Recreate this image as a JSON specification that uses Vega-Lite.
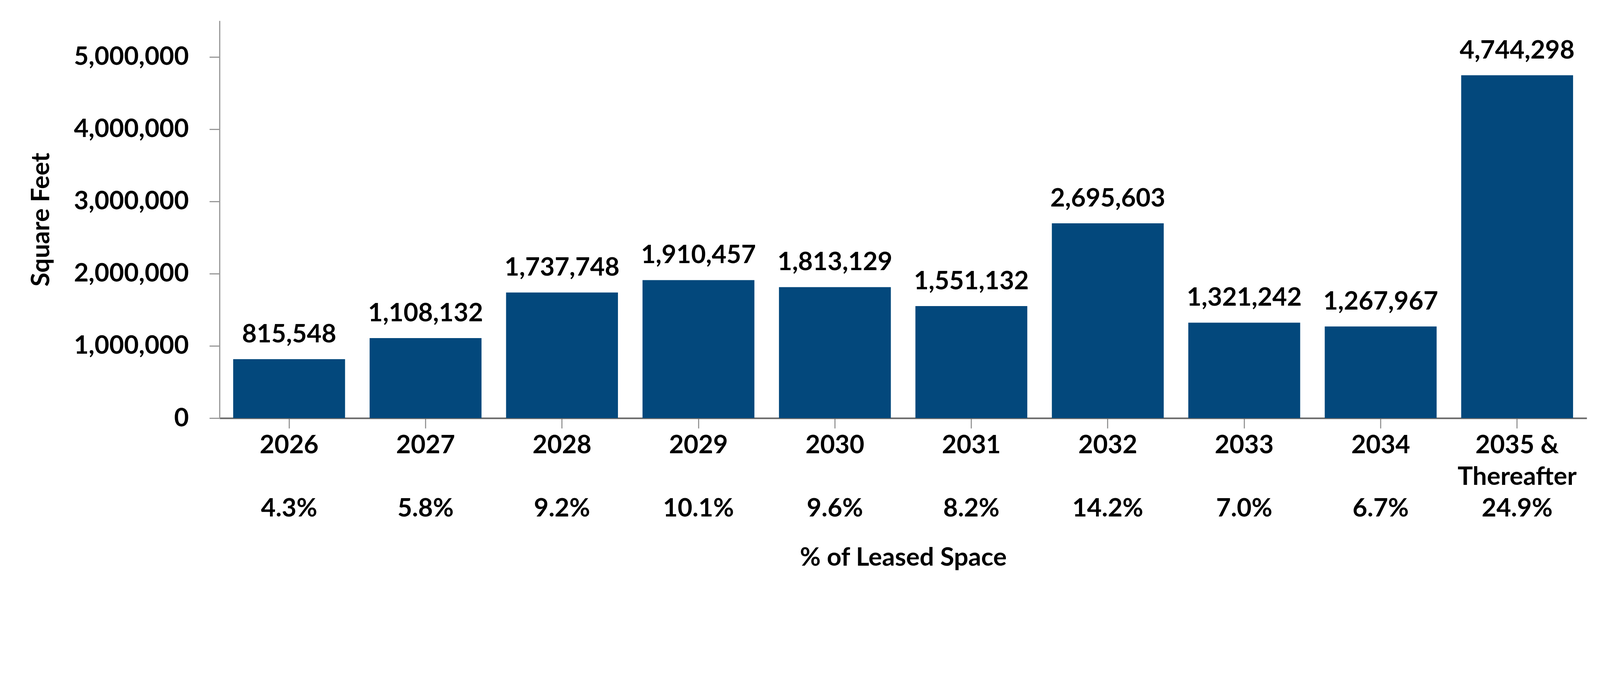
{
  "$schema": "https://vega.github.io/schema/vega-lite/v6.json",
  "autosize": "none",
  "padding": {"left": 562, "top": 53, "right": 52, "bottom": 446},
  "width": 3500,
  "height": 1018,
  "background": "white",
  "data": {
    "values": [
      {"period": "2026", "pct": "4.3%", "sqft": 815548},
      {"period": "2027", "pct": "5.8%", "sqft": 1108132},
      {"period": "2028", "pct": "9.2%", "sqft": 1737748},
      {"period": "2029", "pct": "10.1%", "sqft": 1910457},
      {"period": "2030", "pct": "9.6%", "sqft": 1813129},
      {"period": "2031", "pct": "8.2%", "sqft": 1551132},
      {"period": "2032", "pct": "14.2%", "sqft": 2695603},
      {"period": "2033", "pct": "7.0%", "sqft": 1321242},
      {"period": "2034", "pct": "6.7%", "sqft": 1267967},
      {"period": "2035 & Thereafter", "pct": "24.9%", "sqft": 4744298}
    ]
  },
  "transform": [
    {"calculate": "datum.period + '|' + datum.pct", "as": "axisLabel"}
  ],
  "encoding": {
    "y": {
      "field": "sqft", "type": "quantitative",
      "scale": {"domain": [0, 5500000], "nice": false},
      "axis": {
        "title": "Square Feet",
        "values": [0, 1000000, 2000000, 3000000, 4000000, 5000000],
        "format": ",.0f",
        "grid": false,
        "labelLimit": 0,
        "labelPadding": 53,
        "titleX": -457,
        "titleY": 509,
        "titleBaseline": "middle",
        "domainColor": "#999999",
        "domainWidth": 3
      }
    }
  },
  "layer": [
    {
      "mark": {"type": "bar", "color": "#03487c"},
      "encoding": {
        "x": {
          "field": "axisLabel", "type": "nominal", "sort": null,
          "scale": {"paddingInner": 0.18, "paddingOuter": 0.1},
          "axis": {
            "orient": "bottom",
            "title": "% of Leased Space",
            "labelAngle": 0,
            "labelExpr": "split(replace(split(datum.label, '|')[0], '& ', '&|'), '|')",
            "labelLineHeight": 81,
            "labelPadding": 12,
            "labelLimit": 0,
            "labelOverlap": false,
            "labelBound": false,
            "titleY": 357,
            "titleBaseline": "middle",
            "domainColor": "#666666",
            "domainWidth": 4
          }
        }
      }
    },
    {
      "mark": {"type": "text", "baseline": "alphabetic", "dy": -43, "font": "Lato", "fontWeight": "bold", "fontSize": 65, "color": "black"},
      "encoding": {
        "x": {
          "field": "axisLabel", "type": "nominal", "sort": null,
          "axis": {
            "orient": "bottom",
            "title": null,
            "domain": false,
            "ticks": false,
            "tickSize": 0,
            "labelAngle": 0,
            "labelExpr": "split(datum.label, '|')[1]",
            "labelPadding": 200,
            "labelLimit": 0,
            "labelOverlap": false,
            "labelBound": false
          }
        },
        "text": {"field": "sqft", "type": "quantitative", "format": ","}
      }
    }
  ],
  "resolve": {"axis": {"x": "independent"}},
  "config": {
    "view": {"stroke": null},
    "font": "Lato",
    "axis": {
      "labelFont": "Lato", "labelFontWeight": "bold", "labelFontSize": 65, "labelColor": "black",
      "titleFont": "Lato", "titleFontWeight": "bold", "titleFontSize": 65, "titleColor": "black",
      "tickSize": 26, "tickWidth": 3, "tickColor": "#999999"
    }
  }
}
